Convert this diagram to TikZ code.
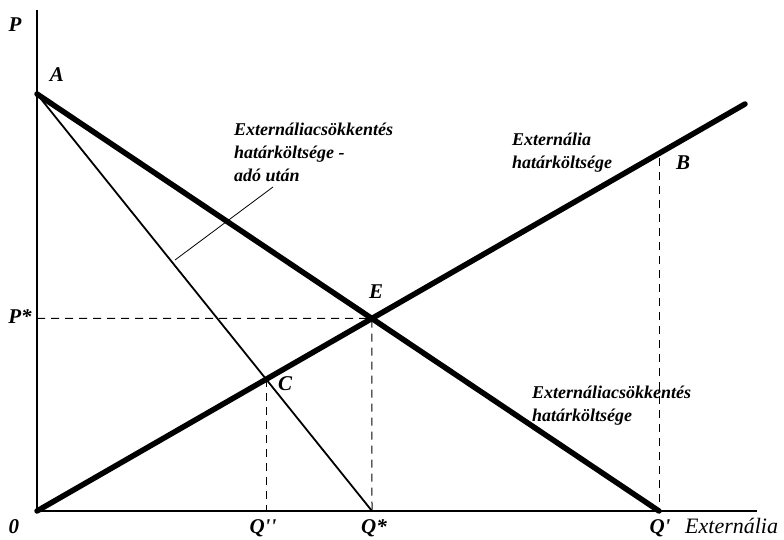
\documentclass[tikz,border=0pt]{standalone}
\usepackage{fontspec}
\setmainfont{Liberation Serif}
\usetikzlibrary{positioning}

\tikzset{
  curve/.style={line width=5.5pt, line cap=round},
  taxcurve/.style={line width=1.8pt},
  axis/.style={line width=1.3pt},
  guide/.style={line width=1pt, dash pattern=on 8pt off 6pt},
  lbl/.style={font=\fontsize{21}{24}\selectfont\bfseries\itshape, inner sep=0pt, anchor=base},
  txt/.style={font=\fontsize{18}{23}\selectfont\bfseries\itshape, inner sep=0pt, align=left, anchor=base west}
}

\begin{document}
\begin{tikzpicture}[x=1pt,y=1pt]
    \useasboundingbox (0,0) rectangle (784,539);

    %points:
    \coordinate (O) at (37,28);
    \coordinate (Ytop) at (37,529);
    \coordinate (Xend) at (757,28);
    \coordinate (A) at (37,445);
    \coordinate (Qp) at (659,28);
    \coordinate (Qs) at (372,28);
    \coordinate (Bend) at (745,435);
    \coordinate (Btop) at (659,381);
    \coordinate (E) at (intersection of A--Qp and O--Bend);
    \coordinate (C) at (intersection of A--Qs and O--Bend);

    %draw guides:
    \draw[guide] (O |- E) -- (E) -- (Qs);
    \draw[guide] (C) -- (C |- O);
    \draw[guide] (Btop) -- (Qp);

    %draw axes:
    \draw[axis] (Ytop) -- (O) -- (Xend);

    %draw curves:
    \draw[taxcurve] (A) -- (Qs);
    \draw[curve] (A) -- (Qp);
    \draw[curve] (O) -- (Bend);

    %labels:
    \node[lbl] (lP) at (15,507) {P};
    \node[lbl] (lA) at (57,457) {A};
    \node[lbl] (lE) at (376,241) {E};
    \node[lbl] (lC) at (285,149) {C};
    \node[lbl] (lB) at (683,369) {B};
    \node[lbl] (lPs) at (20,216) {P*};
    \node[lbl] (lO) at (14,6) {0};
    \node[lbl] (lQpp) at (263,6) {Q\textquotesingle\textquotesingle};
    \node[lbl] (lQs) at (374,6) {Q*};
    \node[lbl] (lQp) at (660,6) {Q\textquotesingle};
    \node[lbl, font=\fontsize{22}{24}\selectfont\itshape, anchor=base west] (lX) at (685,6) {Externália};

    %texts (anchored at the last line):
    \node[txt] (tax) at (234,357) {Externáliacsökkentés\\határköltsége -\\adó után};
    \node[txt] (mec) at (512,370) {Externália\\határköltsége};
    \node[txt] (mac) at (532,118) {Externáliacsökkentés\\határköltsége};

    %leader:
    \coordinate (lead) at (175,279);
    \coordinate (leadend) at (273,352);
    \draw[line width=0.8pt] (lead) -- (leadend);

\end{tikzpicture}
\end{document}
